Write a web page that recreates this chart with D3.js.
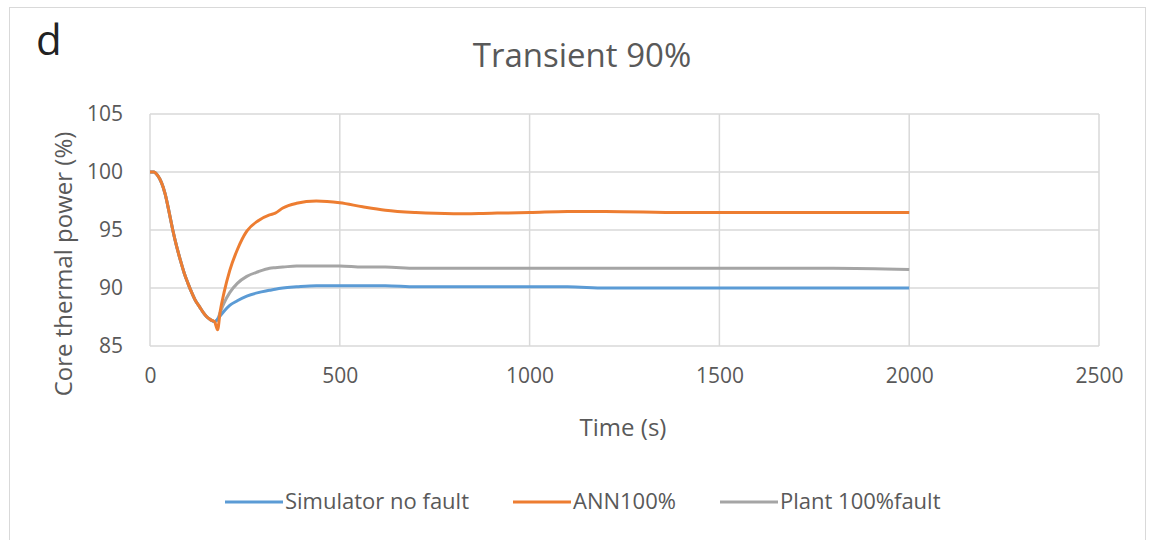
<!DOCTYPE html>
<html><head><meta charset="utf-8">
<script src="https://cdn.jsdelivr.net/npm/d3@7"></script>
<style>body{margin:0;background:#fff}svg{display:block}text{font-family:"Open Sans","Liberation Sans",sans-serif}</style>
</head><body><svg id="c" width="1155" height="540"></svg>
<script>
const time = [0,10,20,30,40,50,60,70,80,90,100,110,120,130,140,150,160,170,178,185,195,210,230,255,285,315,330,350,386,438,500,560,620,700,800,900,1000,1100,1200,1400,1600,1800,2000];
const simulatorNoFault = [100,100,99.7,99.1,98.1,96.6,95.0,93.6,92.4,91.3,90.4,89.6,88.9,88.4,87.9,87.5,87.25,87.1,87.3,87.6,88.0,88.5,88.9,89.3,89.6,89.8,89.9,90.0,90.1,90.2,90.2,90.2,90.2,90.1,90.1,90.1,90.1,90.1,90.0,90.0,90.0,90.0,90.0];
const ann100 = [100,100,99.7,99.1,98.1,96.6,95.0,93.6,92.4,91.3,90.4,89.6,88.9,88.4,87.9,87.5,87.25,87.1,86.4,88.0,89.6,91.5,93.3,94.9,95.8,96.3,96.45,96.9,97.3,97.5,97.35,97.0,96.7,96.5,96.4,96.45,96.5,96.6,96.6,96.5,96.5,96.5,96.5];
const plant100Fault = [100,100,99.7,99.1,98.1,96.6,95.0,93.6,92.4,91.3,90.4,89.6,88.9,88.4,87.9,87.5,87.25,87.1,87.3,87.9,88.7,89.6,90.4,91.0,91.4,91.7,91.75,91.8,91.9,91.9,91.9,91.8,91.8,91.7,91.7,91.7,91.7,91.7,91.7,91.7,91.7,91.7,91.6];
const seriesNames = ["Simulator no fault","ANN100%","Plant 100%fault"];
const seriesColors = ["#5b9bd5","#ed7d31","#a5a5a5"];
const xTicks = [0,500,1000,1500,2000,2500];
const yTicks = [85,90,95,100,105];

const svg = d3.select("#c");
svg.append("rect").attr("x",9.5).attr("y",7.5).attr("width",1136).attr("height",540).attr("fill","#fff").attr("stroke","#d9d9d9");

const x = d3.scaleLinear().domain([0,2500]).range([150,1099]);
const y = d3.scaleLinear().domain([85,105]).range([346,114]);

const g = svg.append("g");
g.selectAll(".gy").data(yTicks).join("line").attr("x1",x(0)).attr("x2",x(2500)).attr("y1",d=>y(d)).attr("y2",d=>y(d)).attr("stroke","#d9d9d9").attr("stroke-width",1.5);
g.selectAll(".gx").data(xTicks).join("line").attr("y1",y(85)).attr("y2",y(105)).attr("x1",d=>x(d)).attr("x2",d=>x(d)).attr("stroke","#d9d9d9").attr("stroke-width",1.5);

const xa = svg.append("g").attr("transform",`translate(0,${y(85)})`).call(d3.axisBottom(x).tickValues(xTicks).tickSize(0).tickFormat(d3.format("d")));
xa.select(".domain").remove();
xa.selectAll("text").attr("font-size",21).attr("fill","#595959").attr("dy",null).attr("y",37);
const ya = svg.append("g").attr("transform",`translate(${x(0)},0)`).call(d3.axisLeft(y).tickValues(yTicks).tickSize(0).tickPadding(27));
ya.select(".domain").remove();
ya.selectAll("text").attr("font-size",21).attr("fill","#595959");

const all = [simulatorNoFault, ann100, plant100Fault];
const line = d3.line().x((d,i)=>x(time[i])).y(d=>y(d)).curve(d3.curveMonotoneX);
[2,0,1].forEach(k=>{
  svg.append("path").attr("d",line(all[k])).attr("fill","none").attr("stroke",seriesColors[k]).attr("stroke-width",3).attr("stroke-linejoin","round");
});

svg.append("text").attr("x",582).attr("y",67).attr("text-anchor","middle").attr("font-size",33).attr("fill","#595959").text("Transient 90%");
svg.append("text").attr("x",36).attr("y",55).attr("font-size",42).attr("fill","#222").text("d");
svg.append("text").attr("x",623).attr("y",436).attr("text-anchor","middle").attr("font-size",24).attr("fill","#595959").text("Time (s)");
svg.append("text").attr("transform","translate(72,264) rotate(-90)").attr("text-anchor","middle").attr("font-size",24).attr("fill","#595959").text("Core thermal power (%)");

const legX = [225,513,720];
const lg = svg.append("g");
seriesNames.forEach((n,i)=>{
  lg.append("line").attr("x1",legX[i]).attr("x2",legX[i]+58).attr("y1",502).attr("y2",502).attr("stroke",seriesColors[i]).attr("stroke-width",3);
  lg.append("text").attr("x",legX[i]+60).attr("y",509).attr("font-size",22).attr("fill","#595959").text(n);
});
</script></body></html>
